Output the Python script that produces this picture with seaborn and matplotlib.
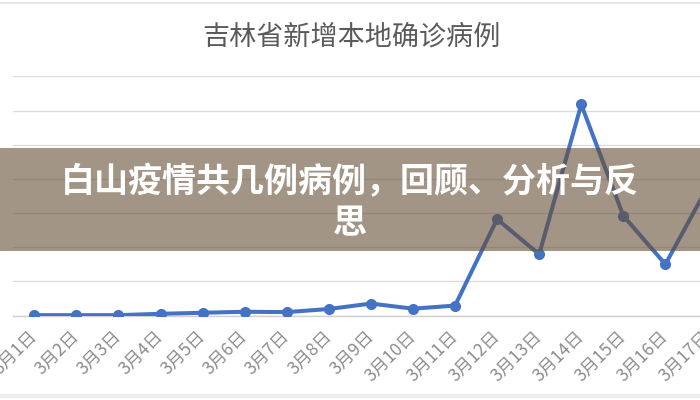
import matplotlib
matplotlib.use("Agg")
import matplotlib.pyplot as plt
import seaborn as sns
import pandas as pd
from matplotlib.patches import Rectangle
from matplotlib.lines import Line2D

# ---- data ----
dates = ["3月1日", "3月2日", "3月3日", "3月4日", "3月5日", "3月6日", "3月7日",
         "3月8日", "3月9日", "3月10日", "3月11日", "3月12日", "3月13日",
         "3月14日", "3月15日", "3月16日", "3月17日"]
cases = [5, 5, 5, 25, 40, 55, 50, 95, 175, 100, 145, 1412, 895, 3090, 1460, 750, 1880]
y_ticks = [0, 500, 1000, 1500, 2000, 2500, 3000, 3500]
chart_title = "吉林省新增本地确诊病例"
banner_line1 = "白山疫情共几例病例，回顾、分析与反"
banner_line2 = "思"

sns.set_style("white")
plt.rcParams['font.family'] = ['Noto Sans CJK SC', 'DejaVu Sans']

df = pd.DataFrame({"date": dates, "cases": cases})

W, H = 700, 400
fig = plt.figure(figsize=(7, 4), dpi=100)
fig.patch.set_facecolor("white")

left_px, right_px = 13.3, 728.5
bottom_px, top_px = 315.5, 76.5
ax = fig.add_axes([left_px / W, 1 - bottom_px / H,
                   (right_px - left_px) / W, (bottom_px - top_px) / H])

df["x"] = range(len(dates))
sns.lineplot(data=df, x="x", y="cases", ax=ax, color="#4472C4", linewidth=2.9,
             marker="o", markersize=8, markeredgewidth=0, zorder=3)

ax.set_xlim(-0.5, len(dates) - 0.5)
ax.set_ylim(y_ticks[0], y_ticks[-1])
ax.set_yticks(y_ticks)
ax.set_yticklabels([])
ax.tick_params(axis="y", length=0)
ax.grid(axis="y", color="#DCDCDC", linewidth=1.0)
ax.grid(axis="x", visible=False)
for s in ["left", "right", "top"]:
    ax.spines[s].set_visible(False)
ax.spines["bottom"].set_color("#D0D0D0")
ax.spines["bottom"].set_linewidth(1.0)

ax.set_xticks(range(len(dates)))
ax.set_xticklabels(dates, rotation=45, ha="right", va="center",
                   rotation_mode="anchor", fontsize=12.5, color="#8C8C8C")
ax.tick_params(axis="x", length=0, pad=13)
ax.set_xticks([i + 0.5 for i in range(-1, len(dates))], minor=True)
ax.tick_params(axis="x", which="minor", length=4, color="#D0D0D0", width=1)
ax.set_xlabel("")
ax.set_ylabel("")

# title
fig.text(351 / W, 1 - 37 / H, chart_title, ha="center", va="center",
         fontsize=19.5, color="#5A5A5A")

# thin frame lines near top and bottom edges
fig.add_artist(Line2D([0, 1], [1 - 2.5 / H, 1 - 2.5 / H], transform=fig.transFigure,
                      color="#E6E6E6", linewidth=1.5))
fig.add_artist(Line2D([0, 1], [1 - 396 / H, 1 - 396 / H], transform=fig.transFigure,
                      color="#EDEDED", linewidth=3))

# banner overlay
banner = Rectangle((0, 1 - 251 / H), 1, 103 / H, transform=fig.transFigure,
                   facecolor=(102 / 255, 78 / 255, 52 / 255), alpha=0.6,
                   edgecolor="none", zorder=5)
fig.add_artist(banner)
fig.text(0.5, 1 - 182 / H, banner_line1, ha="center", va="center",
         fontsize=24.5, fontweight="heavy", color="white", zorder=6)
fig.text(0.5, 1 - 223 / H, banner_line2, ha="center", va="center",
         fontsize=24.5, fontweight="heavy", color="white", zorder=6)

fig.savefig("out.png", dpi=100)
